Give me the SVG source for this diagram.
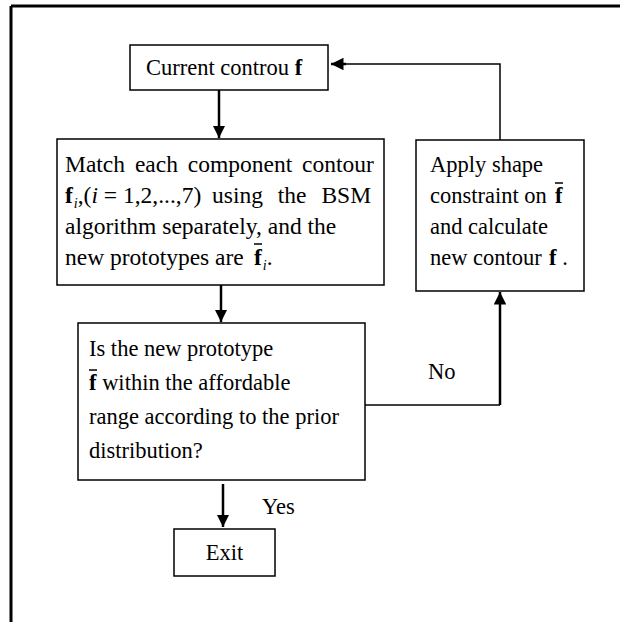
<svg xmlns="http://www.w3.org/2000/svg" width="620" height="622" viewBox="0 0 620 622">
<defs>
<style>
.box{fill:#fff;stroke:#000;stroke-width:1.5}
.t{font-family:"Liberation Serif","Times New Roman",serif;font-size:22.5px;fill:#000}
.m{font-size:23.5px}
.b{font-weight:bold}
.it{font-style:italic}
.sub{font-size:14px;font-style:italic}
.ln{fill:none;stroke:#000;stroke-width:1.5}
.arr{fill:none;stroke:#000;stroke-width:2.5}
.bar{stroke:#000;stroke-width:1.5}
</style>
<marker id="ah" viewBox="0 0 10 10" refX="10" refY="5" markerWidth="5" markerHeight="5" orient="auto" markerUnits="strokeWidth">
<path d="M0,0 L10,5 L0,10 z" fill="#000"/>
</marker>
</defs>
<rect width="620" height="622" fill="#fff"/>
<g id="frame">
<line x1="11" y1="6" x2="620" y2="6" stroke="#000" stroke-width="3"/>
<line x1="11" y1="6" x2="11" y2="622" stroke="#000" stroke-width="3"/>
</g>
<g id="connectors">
<line class="arr" x1="219" y1="90" x2="219" y2="138" marker-end="url(#ah)"/>
<line class="arr" x1="221" y1="285" x2="221" y2="322" marker-end="url(#ah)"/>
<line class="arr" x1="223" y1="484" x2="223" y2="527" marker-end="url(#ah)"/>
<polyline class="ln" points="365,405 500,405"/>
<line class="arr" x1="500" y1="405" x2="500" y2="292" marker-end="url(#ah)"/>
<polyline class="ln" points="500,140 500,64 345,64"/>
<line class="arr" x1="346" y1="64" x2="331" y2="64" marker-end="url(#ah)"/>
<text class="t" x="428" y="379">No</text>
<text class="t" x="262" y="514">Yes</text>
</g>
<g id="current">
<rect class="box" x="130" y="45" width="198" height="45"/>
<text class="t" x="146" y="75">Current controu <tspan class="b">f</tspan></text>
</g>
<g id="match">
<rect class="box" x="57" y="139" width="327" height="146"/>
<text class="t m" x="65" y="172" word-spacing="4">Match each component contour</text>
<text class="t m" x="65" y="203"><tspan class="b">f</tspan><tspan class="sub" dx="1" dy="5">i</tspan><tspan dy="-5">,(</tspan><tspan class="it">i</tspan> = 1,2,...,7)</text>
<text class="t m" x="212" y="203" word-spacing="9">using the BSM</text>
<text class="t m" x="65" y="265">new prototypes are</text>
<text class="t m" x="254" y="265"><tspan class="b">f</tspan><tspan class="sub" dx="1" dy="5">i</tspan><tspan dy="-5">.</tspan></text>
<line class="bar" x1="254" y1="244" x2="262" y2="244"/>
<text class="t m" x="65" y="234">algorithm separately, and the</text>
</g>
<g id="decision">
<rect class="box" x="78" y="323" width="287" height="157"/>
<text class="t" x="89" y="356">Is the new prototype</text>
<text class="t" x="89" y="390"><tspan class="b">f</tspan> within the affordable</text>
<line class="bar" x1="89" y1="370" x2="97" y2="370"/>
<text class="t" x="89" y="424">range according to the prior</text>
<text class="t" x="89" y="458">distribution?</text>
</g>
<g id="apply">
<rect class="box" x="416" y="140" width="168" height="151"/>
<text class="t" x="430" y="172">Apply shape</text>
<text class="t" x="430" y="203">constraint on <tspan class="b" x="555">f</tspan></text>
<line class="bar" x1="555" y1="183" x2="563" y2="183"/>
<text class="t" x="430" y="234">and calculate</text>
<text class="t" x="430" y="265">new contour <tspan class="b" x="549">f</tspan> .</text>
</g>
<g id="exit">
<rect class="box" x="174" y="529" width="101" height="47"/>
<text class="t" x="224.5" y="560" text-anchor="middle">Exit</text>
</g>
</svg>
